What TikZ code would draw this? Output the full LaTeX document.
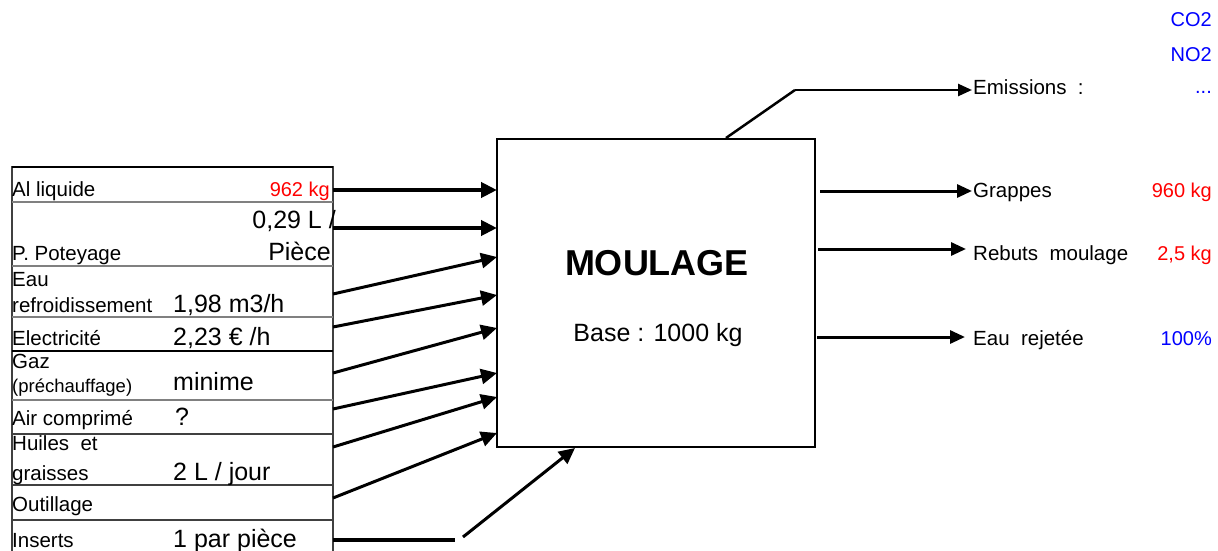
\documentclass[tikz,border=0pt]{standalone}
\usepackage{fontspec}
\setmainfont{Liberation Sans}
\usetikzlibrary{arrows.meta, positioning}
\definecolor{valRed}{HTML}{FF0000}
\definecolor{valBlue}{HTML}{0000FF}
\definecolor{rowGrey}{HTML}{808080}
\definecolor{rowDark}{HTML}{404040}
\tikzset{
  rowtext/.style={anchor=base west, inner sep=0pt, font=\fontsize{20.5}{22}\selectfont},
  smalltext/.style={anchor=base west, inner sep=0pt, font=\fontsize{18.5}{20}\selectfont},
  valtext/.style={anchor=base west, inner sep=0pt, font=\fontsize{25}{27}\selectfont},
  numtext/.style={anchor=base east, inner sep=0pt, font=\fontsize{20}{22}\selectfont, text=#1},
  inarr/.style={-{Triangle[length=16pt, width=15pt]}, line width=3pt},
  outarr/.style={-{Triangle[length=15pt, width=13pt]}, line width=3pt}
}

\begin{document}
\begin{tikzpicture}[
  x=1pt, y=-1pt,
  procbox/.style={draw, line width=2.5pt, minimum width=318pt, minimum height=308pt, inner sep=0pt},
  sepline/.style={line width=2.5pt, #1}
]
\useasboundingbox (0,0) rectangle (1218,551);

% Input table
\draw[rowDark, line width=2pt] (12,551) -- (12,167) -- (333,167) -- (333,551);
\draw[black, line width=2.5pt] (12,167) -- (333,167);
\foreach \y/\c in {202/rowGrey, 266/rowGrey, 317/rowGrey, 351/black, 400/rowGrey, 434/rowDark, 485/rowDark, 520/rowDark}
  \draw[sepline=\c] (12,\y) -- (333,\y);

% Row labels
\node[rowtext] (alliq) at (12,196) {Al liquide};
\node[numtext=valRed] (alval) at (330,196) {962 kg};
\node[valtext, anchor=base east] (poteyval) at (336,228) {0,29 L /};
\node[rowtext] (potey) at (12,260) {P. Poteyage};
\node[valtext, anchor=base east] (poteyunit) at (331,260) {Pièce};
\node[rowtext] (eau) at (12,286) {Eau};
\node[rowtext] (refroid) at (12,312) {refroidissement};
\node[valtext] (eauval) at (173,312) {1,98 m3/h};
\node[rowtext] (elec) at (12,345) {Electricité};
\node[valtext] (elecval) at (173,345) {2,23 € /h};
\node[rowtext] (gaz) at (12,368) {Gaz};
\node[smalltext] (prechauf) at (12,392) {(préchauffage)};
\node[valtext] (gazval) at (173,390) {minime};
\node[rowtext] (air) at (12,425) {Air comprimé};
\node[valtext] (airval) at (175,425) {?};
\node[rowtext] (huiles) at (12,450) {Huiles\ \ et};
\node[rowtext] (graisses) at (12,480) {graisses};
\node[valtext] (huileval) at (173,480) {2 L / jour};
\node[rowtext] (outil) at (12,511) {Outillage};
\node[rowtext] (inserts) at (12,547) {Inserts};
\node[valtext] (insertval) at (173,547) {1 par pièce};

% Process box
\node[procbox] (moulage) at (656,293) {};
\node[anchor=base, font=\bfseries\fontsize{36}{40}\selectfont] (title) at (657,275) {MOULAGE};
\node[anchor=base, font=\fontsize{25}{27}\selectfont] (basis) at (658,341) {Base : 1000 kg};

% Inputs -> box
\foreach \n/\ys/\ye/\w in {1/190/190/4, 2/228/228/4, 3/294/257/3, 4/327/295/3, 5/373/328/3, 6/409/373/3, 7/447/397/3, 8/498/433/3} {
  \coordinate (src\n) at (333,\ys);
  \coordinate (dst\n) at (497,\ye);
  \draw[inarr, line width=\w pt] (src\n) -- (dst\n);
}
\coordinate (src9) at (333,540);
\coordinate (mid9) at (455,540);
\coordinate (kink9) at (463,537);
\coordinate (dst9) at (575,448);
\draw[line width=4pt] (src9) -- (mid9);
\draw[inarr] (kink9) -- (dst9);

% Outputs
\coordinate (em1) at (726,138);
\coordinate (em2) at (795,90);
\coordinate (em3) at (972,90);
\draw[line width=2.5pt] (em1) -- (em2);
\draw[-{Triangle[length=14pt, width=12pt]}, line width=2.5pt] (em2) -- (em3);
\foreach \n/\xs/\xe/\y in {1/820/972/191, 2/818/966/249, 3/817/965/337} {
  \coordinate (out\n) at (\xs,\y);
  \coordinate (tip\n) at (\xe,\y);
  \draw[outarr] (out\n) -- (tip\n);
}

% Output labels
\node[rowtext] (emis) at (973,94) {Emissions\ \ :};
\node[numtext=valBlue] (co2) at (1212,27) {CO2};
\node[numtext=valBlue] (no2) at (1212,62) {NO2};
\node[numtext=valBlue] (etc) at (1212,93) {...};
\node[rowtext] (grappes) at (973,197) {Grappes};
\node[numtext=valRed] (grapval) at (1212,197) {960 kg};
\node[rowtext] (rebuts) at (973,260) {Rebuts\ \ moulage};
\node[numtext=valRed] (rebval) at (1212,260) {2,5 kg};
\node[rowtext] (rejet) at (973,345) {Eau\ \ rejetée};
\node[numtext=valBlue] (rejval) at (1212,345) {100\%};

\end{tikzpicture}
\end{document}
